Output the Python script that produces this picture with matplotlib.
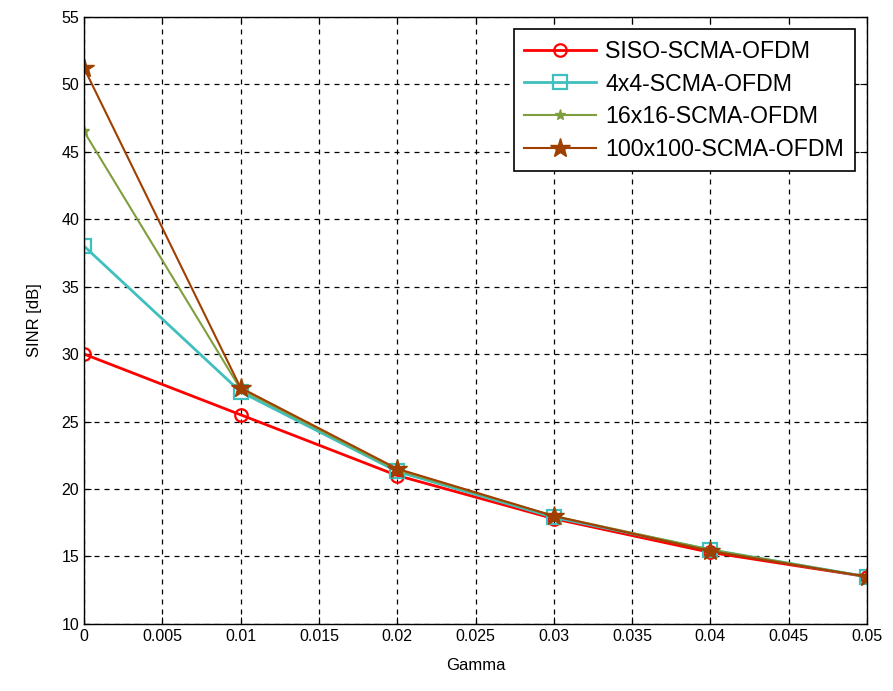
import matplotlib
matplotlib.use('Agg')
import matplotlib.pyplot as plt

plt.rcParams['font.family'] = ['Liberation Sans', 'DejaVu Sans']

gamma = [0, 0.01, 0.02, 0.03, 0.04, 0.05]
siso = [30.0, 25.5, 21.0, 17.8, 15.3, 13.5]
mimo_4 = [38.0, 27.2, 21.3, 17.9, 15.5, 13.5]
mimo_16 = [46.5, 27.4, 21.4, 18.0, 15.5, 13.5]
mimo_100 = [51.2, 27.5, 21.5, 18.0, 15.4, 13.5]

labels = ['SISO-SCMA-OFDM', '4x4-SCMA-OFDM', '16x16-SCMA-OFDM', '100x100-SCMA-OFDM']
xticks = [0, 0.005, 0.01, 0.015, 0.02, 0.025, 0.03, 0.035, 0.04, 0.045, 0.05]
yticks = [10, 15, 20, 25, 30, 35, 40, 45, 50, 55]

fig = plt.figure(figsize=(8.93, 6.91), dpi=100)
ax = fig.add_axes([0.094, 0.097, 0.877, 0.879])

ax.plot(gamma, siso, color='#ff0000', lw=2, marker='o', ms=9,
        mfc='none', mec='#ff0000', mew=1.6, label=labels[0])
ax.plot(gamma, mimo_4, color='#40bfbf', lw=2, marker='s', ms=10,
        mfc='none', mec='#40bfbf', mew=1.6, label=labels[1])
ax.plot(gamma, mimo_16, color='#7f9f3f', lw=1.5, marker='*', ms=8,
        mfc='#7f9f3f', mec='#7f9f3f', label=labels[2])
ax.plot(gamma, mimo_100, color='#9f3f00', lw=1.5, marker='*', ms=15,
        mfc='#9f3f00', mec='#9f3f00', label=labels[3])

ax.set_xlim(0, 0.05)
ax.set_ylim(10, 55)
ax.set_xticks(xticks)
ax.set_xticklabels(['0', '0.005', '0.01', '0.015', '0.02', '0.025', '0.03',
                    '0.035', '0.04', '0.045', '0.05'])
ax.set_yticks(yticks)
ax.tick_params(direction='in', top=True, right=True, labelsize=11.5, length=5)
ax.grid(True, color='black', linestyle=(0, (4, 4)), lw=0.9)
for s in ax.spines.values():
    s.set_linewidth(1.0)

ax.set_xlabel('Gamma', fontsize=12, labelpad=10)
ax.set_ylabel('SINR [dB]', fontsize=12, labelpad=14)

leg = ax.legend(loc='upper right', fontsize=16.7, fancybox=False, framealpha=1,
                edgecolor='black', handlelength=3.1, handletextpad=0.4,
                borderpad=0.45, labelspacing=0.42, borderaxespad=0,
                bbox_to_anchor=(0.984, 0.979))
leg.get_frame().set_linewidth(1.2)

fig.savefig('out.png', dpi=100)
